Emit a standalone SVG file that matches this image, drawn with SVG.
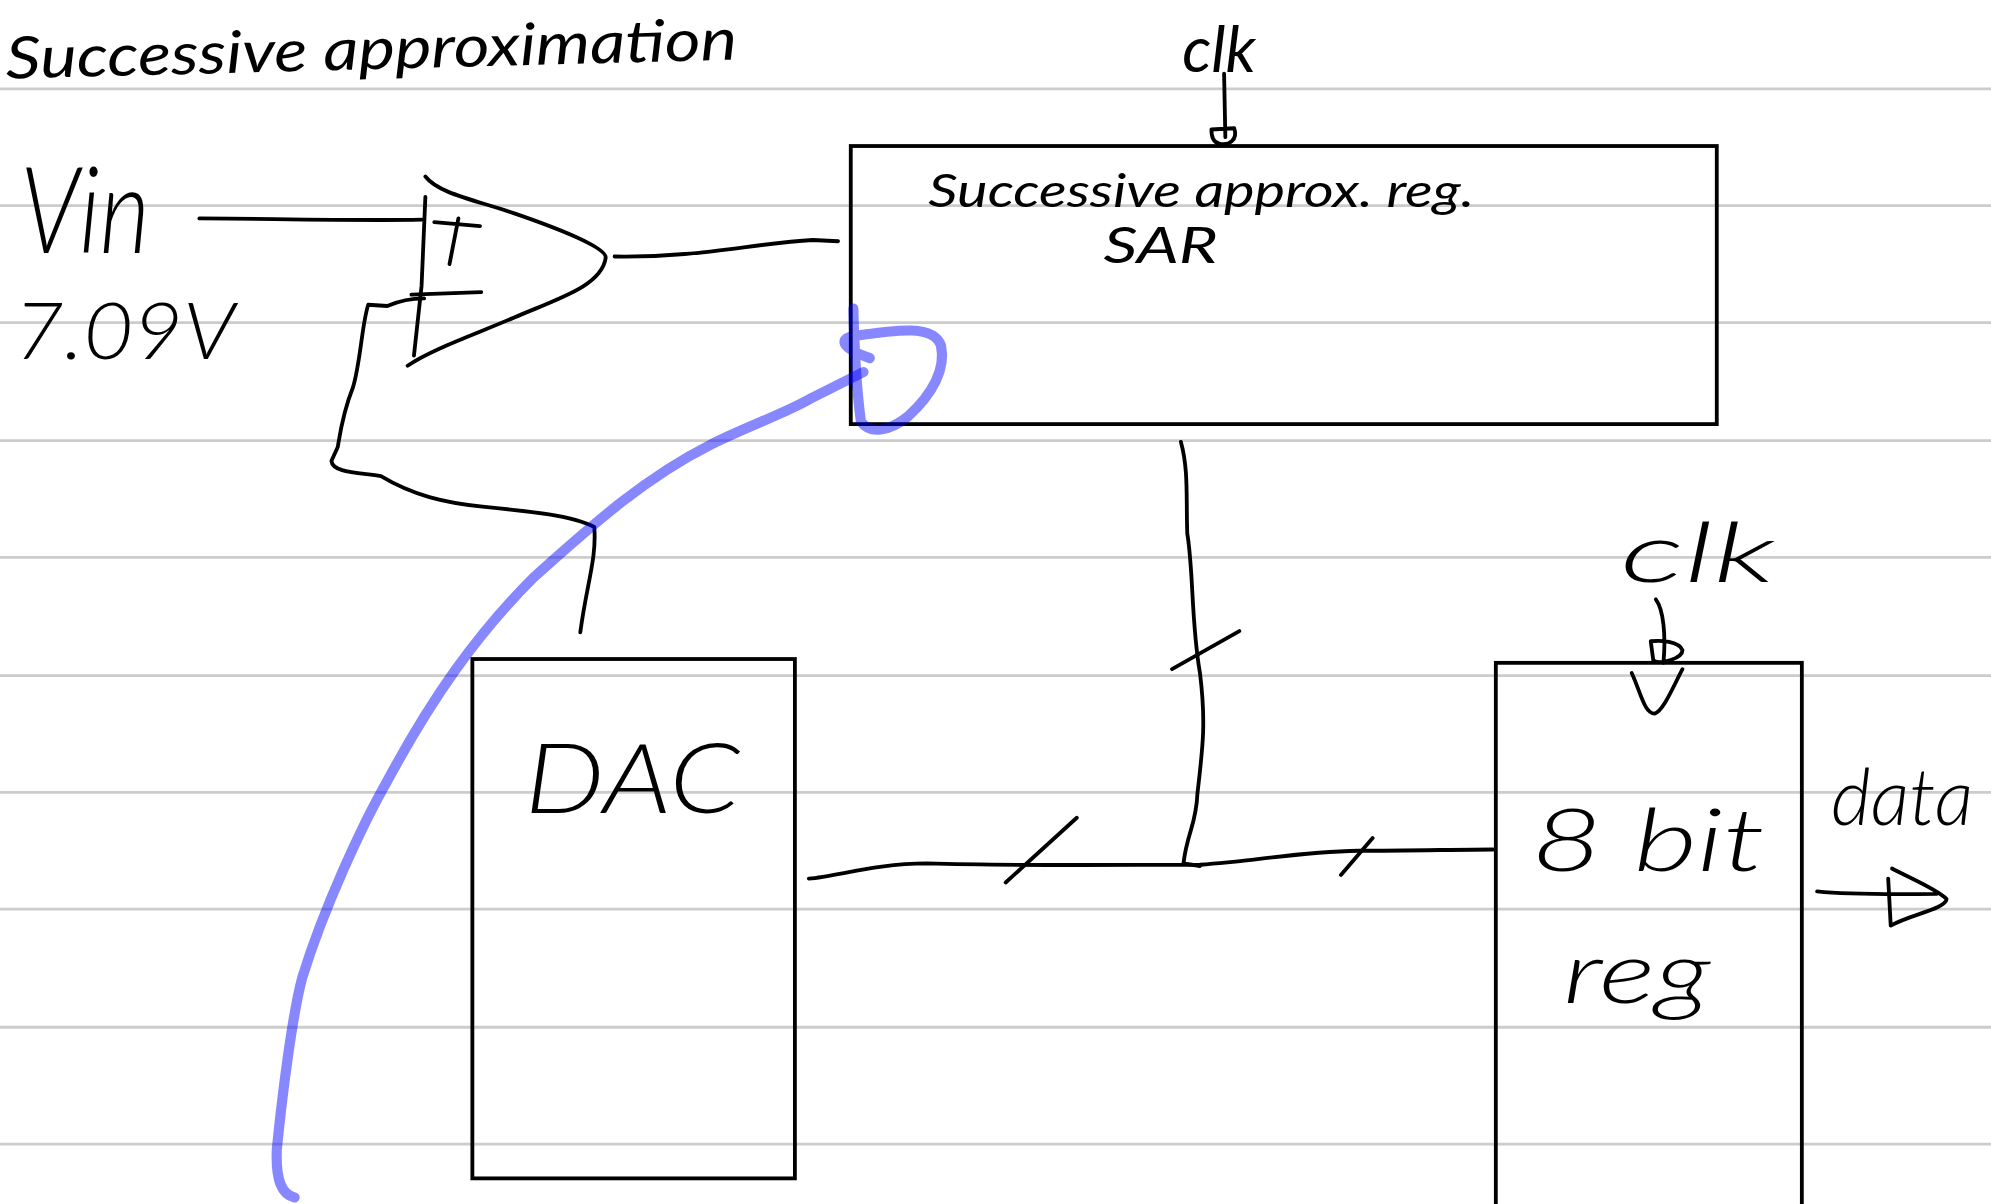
<svg xmlns="http://www.w3.org/2000/svg" width="1991" height="1204" viewBox="0 0 1991 1204">
<style>
.rule{stroke:#cccccc;stroke-width:2.2;fill:none}
.box{fill:none;stroke:#000;stroke-width:3}
.ink{fill:none;stroke:#000;stroke-width:3;stroke-linecap:round;stroke-linejoin:round}
.blue{fill:none;stroke:#0000ff;stroke-opacity:.47;stroke-width:8;stroke-linecap:round;stroke-linejoin:round}
text{font-family:"Lato","Open Sans","Liberation Sans",sans-serif;font-weight:400;font-style:italic;fill:#000}
.big{font-weight:300}
</style>
<rect width="1991" height="1204" fill="#fff"/>
<g transform="scale(1.2698)">
<g id="rules">
<path class="rule" d="M0 70H1568M0 162H1568M0 254H1568M0 347H1568M0 439H1568M0 532H1568M0 624H1568M0 716H1568M0 809H1568M0 901H1568"/>
</g>
<g id="title"><text x="5" y="62" font-size="46" textLength="576" lengthAdjust="spacingAndGlyphs" transform="rotate(-1.5 5 62)">Successive approximation</text></g>
<g id="vin">
<text class="big" x="16" y="199" font-size="95" textLength="102" lengthAdjust="spacingAndGlyphs">Vin</text>
<text class="big" x="11" y="283" font-size="62" textLength="174" lengthAdjust="spacingAndGlyphs">7.09V</text>
</g>
<g id="comparator">
<path class="ink" d="M335 139C345 152 372 157 405 168C440 180 478 195 477 203C474 225 440 235 405 250C375 263 340 275 321 288"/>
<path class="ink" d="M335 155L332 225L326 280"/>
<path class="ink" d="M342 175L378 178M361 172L354 208"/>
<path class="ink" d="M324 232L379 230"/>
</g>
<g id="sar">
<rect class="box" x="670" y="115" width="682" height="219"/>
<text x="731" y="163" font-size="36" textLength="430" lengthAdjust="spacingAndGlyphs">Successive approx. reg.</text>
<text x="869" y="207" font-size="40" textLength="90" lengthAdjust="spacingAndGlyphs">SAR</text>
</g>
<g id="clk1"><text x="931" y="57" font-size="50" textLength="58" lengthAdjust="spacingAndGlyphs">clk</text></g>
<g id="dac">
<rect class="box" x="372" y="519" width="254" height="409"/>
<text class="big" x="413" y="640" font-size="76" textLength="170" lengthAdjust="spacingAndGlyphs">DAC</text>
</g>
<g id="reg">
<rect class="box" x="1178" y="522" width="241" height="440"/>
<text class="big" x="1206" y="686" font-size="68" textLength="184" lengthAdjust="spacingAndGlyphs">8 bit</text>
<text class="big" x="1231" y="790" font-size="68" textLength="116" lengthAdjust="spacingAndGlyphs">reg</text>
</g>
<g id="clk2"><text class="big" x="1276" y="458" font-size="66" textLength="122" lengthAdjust="spacingAndGlyphs">clk</text></g>
<g id="data"><text class="big" x="1442" y="650" font-size="62" textLength="112" lengthAdjust="spacingAndGlyphs">data</text></g>
<g id="connectors">
<path class="ink" d="M157 172C200 172 280 174 332 173"/>
<path class="ink" d="M484 202C550 203 590 192 640 189L660 190"/>
<path class="ink" d="M334 235C320 235 312 238 305 241L290 240C285 255 284 285 278 305C270 325 268 340 266 352L261 363C262 372 280 372 300 375C325 390 350 396 380 399C420 403 450 406 468 415C470 440 462 460 457 498"/>
<path class="ink" d="M964 58L965 108M954 102L972 101C975 110 968 115 960 113C955 112 954 106 954 102"/>
<path class="ink" d="M930 348C936 370 934 390 935 420C940 450 938 490 945 530C950 570 947 590 943 625C942 650 935 655 932 680L945 682"/>
<path class="ink" d="M637 692C660 690 690 680 730 680C800 682 880 681 945 681C990 678 1020 671 1070 670C1110 670 1150 669 1176 669"/>
<path class="ink" d="M923 527L976 497M792 695L848 644M1056 689L1081 660"/>
<path class="ink" d="M1304 472C1310 480 1312 500 1310 522M1300 505L1302 520C1308 524 1325 518 1325 512C1322 505 1308 504 1300 505"/>
<path class="ink" d="M1285 530C1292 545 1295 562 1303 562C1310 560 1318 540 1325 527"/>
<path class="ink" d="M1431 702C1460 705 1500 704 1525 704M1487 692L1489 729C1505 720 1532 716 1533 708C1525 700 1505 692 1490 684"/>
</g>
<g id="feedback">
<path class="blue" d="M232 943C222 941 217 930 218 905C222 865 230 800 238 770C255 715 285 650 305 615C340 550 375 500 420 455C470 410 510 375 560 350C590 335 620 325 640 313L680 293"/>
<path class="blue" d="M672 243C673 280 675 310 678 332C685 342 700 340 715 328C735 310 745 290 741 272C735 255 705 260 670 265C660 268 665 275 685 282"/>
</g>
</g>
</svg>
